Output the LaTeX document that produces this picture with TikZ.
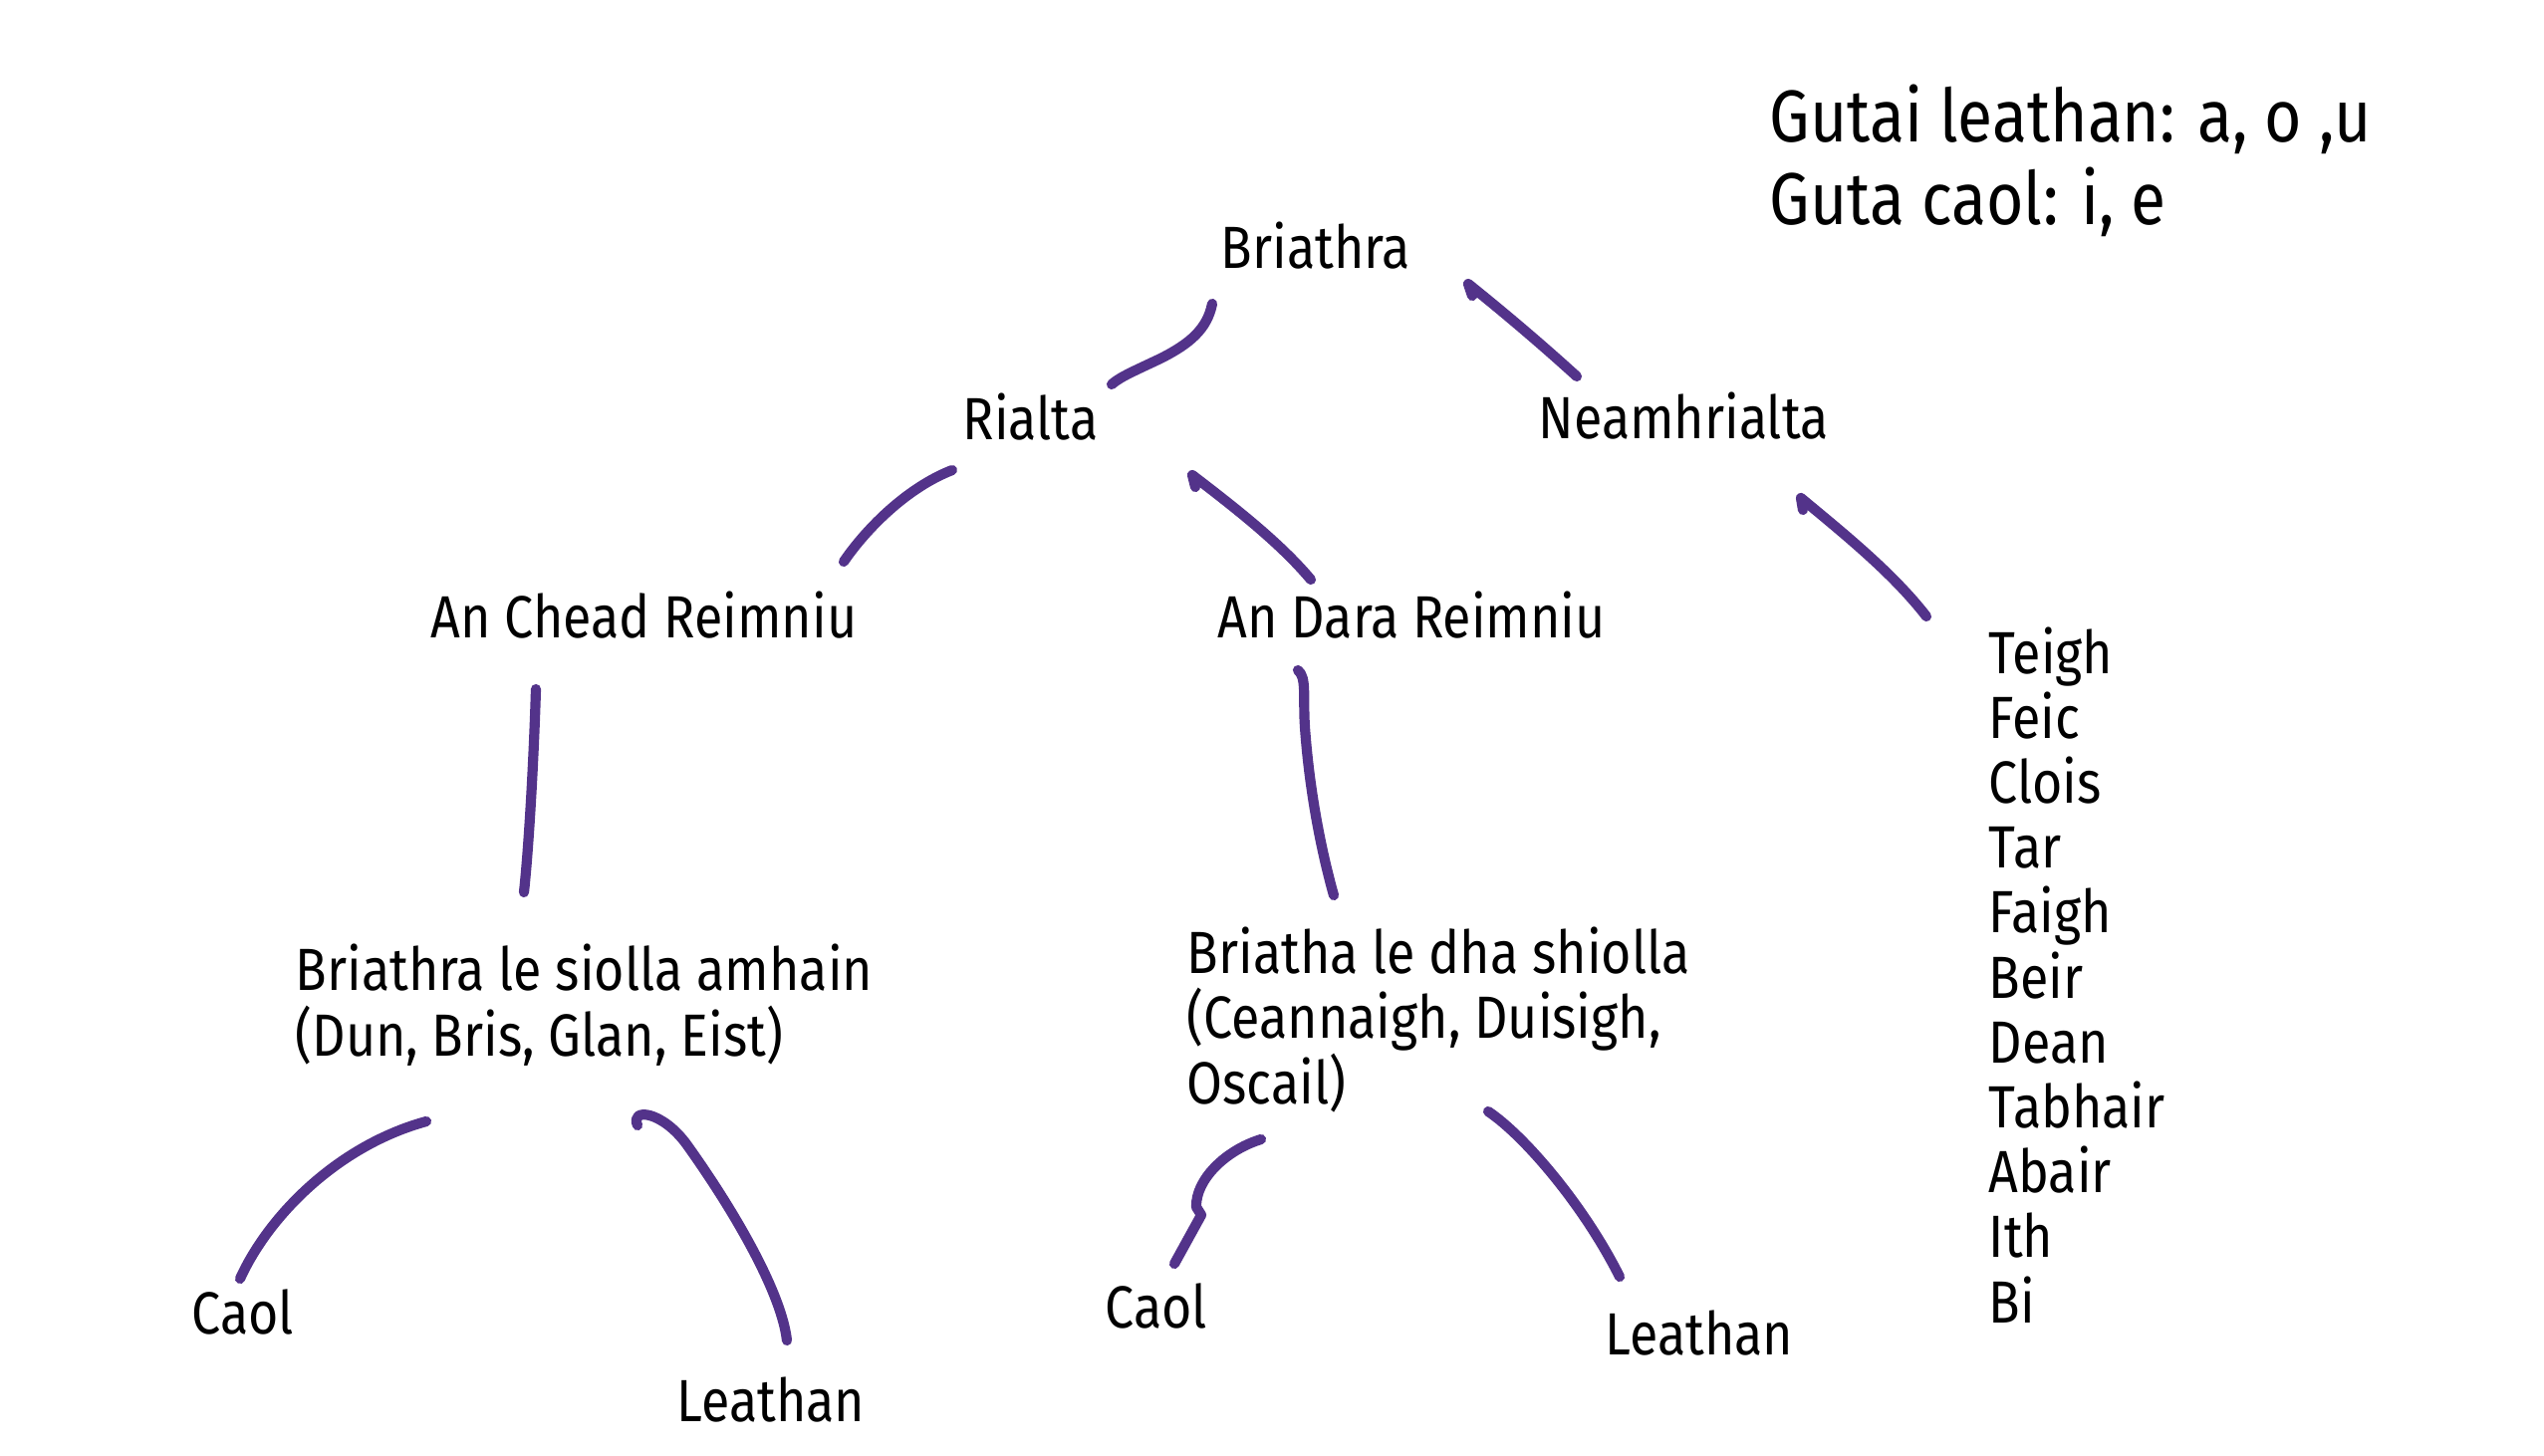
\documentclass[tikz,border=0pt]{standalone}
\usepackage{fontspec}
\setmainfont[FakeStretch=0.87]{Fira Sans}
\definecolor{twig}{HTML}{53338A}
\tikzset{
  lbl/.style={anchor=base west, inner sep=0pt, font=\fontsize{17pt}{18.55pt}\selectfont, align=left},
  ttl/.style={anchor=base west, inner sep=0pt, font=\fontsize{21pt}{23pt}\selectfont},
  twigline/.style={draw=twig, line width=2.9pt, line cap=round, line join=round}
}
\begin{document}
\begin{tikzpicture}[x=0.1mm, y=-0.1mm]
\useasboundingbox (0,0) rectangle (2554,1462);
\fill[white] (0,0) rectangle (2554,1462);

% header
\node[ttl] (t1) at (1776,143) {Gutai leathan: a, o ,u};
\node[ttl] (t2) at (1776,225) {Guta caol: i, e};

% tree labels (multi-line nodes: base = last line)
\node[lbl] (br) at (1225,269) {Briathra};
\node[lbl] (ri) at (966,441) {Rialta};
\node[lbl] (ne) at (1544,440) {Neamhrialta};
\node[lbl] (ac) at (432,640) {An Chead Reimniu};
\node[lbl] (ad) at (1222,640) {An Dara Reimniu};
\node[lbl] (b1) at (296,1060) {Briathra le siolla amhain\\(Dun, Bris, Glan, Eist)};
\node[lbl] (b2) at (1191,1108) {Briatha le dha shiolla\\(Ceannaigh, Duisigh,\\Oscail)};
\node[lbl] (c1) at (192,1339) {Caol};
\node[lbl] (l1) at (679,1427) {Leathan};
\node[lbl] (c2) at (1109,1333) {Caol};
\node[lbl] (l2) at (1611,1360) {Leathan};
\node[lbl] (li) at (1996,1328)
  {Teigh\\Feic\\Clois\\Tar\\Faigh\\Beir\\Dean\\Tabhair\\Abair\\Ith\\Bi};

% connector end points
\coordinate (e1a) at (1217,305); \coordinate (e1b) at (1116,386);
\coordinate (e2a) at (1474,285); \coordinate (e2b) at (1583,378);
\coordinate (e3a) at (956,472);  \coordinate (e3b) at (847,564);
\coordinate (e4a) at (1197,477); \coordinate (e4b) at (1316,582);
\coordinate (e5a) at (1808,500); \coordinate (e5b) at (1934,619);
\coordinate (e6a) at (538,692);  \coordinate (e6b) at (526,896);
\coordinate (e7a) at (1303,673); \coordinate (e7b) at (1339,899);
\coordinate (e8a) at (428,1126); \coordinate (e8b) at (241,1284);
\coordinate (e9a) at (640,1130); \coordinate (e9b) at (790,1346);
\coordinate (e10a) at (1266,1144); \coordinate (e10b) at (1179,1269);
\coordinate (e11a) at (1494,1116); \coordinate (e11b) at (1626,1282);

% connectors
\draw[twigline] (e1a) .. controls (1212,330) and (1195,345) .. (1165,360) .. controls (1140,372) and (1125,378) .. (e1b);
\draw[twigline] ([shift={(4,12)}]e2a) -- (e2a) .. controls (1515,318) and (1550,348) .. (e2b);
\draw[twigline] (e3a) .. controls (912,489) and (871,529) .. (e3b);
\draw[twigline] ([shift={(3,12)}]e4a) -- (e4a) .. controls (1240,510) and (1285,545) .. (e4b);
\draw[twigline] ([shift={(2,12)}]e5a) -- (e5a) .. controls (1850,535) and (1900,575) .. (e5b);
\draw[twigline] (e6a) .. controls (536,760) and (531,850) .. (e6b);
\draw[twigline] (e7a) .. controls (1312,680) and (1308,700) .. (1310,730) .. controls (1315,800) and (1328,860) .. (e7b);
\draw[twigline] (e8a) .. controls (340,1150) and (270,1220) .. (e8b);
\draw[twigline] (e9a) .. controls (632,1112) and (665,1115) .. (690,1150) .. controls (740,1220) and (785,1300) .. (e9b);
\draw[twigline] (e10a) .. controls (1230,1155) and (1200,1185) .. (1201,1212) -- (1206,1220) -- (e10b);
\draw[twigline] (e11a) .. controls (1530,1140) and (1590,1210) .. (e11b);
\end{tikzpicture}
\end{document}
